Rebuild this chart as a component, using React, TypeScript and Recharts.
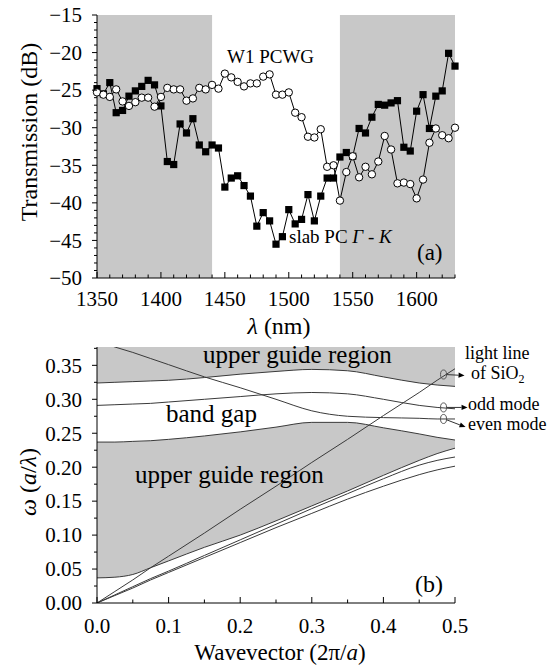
import React from 'react';
import { ComposedChart, Line, Area, XAxis, YAxis, ReferenceArea, ReferenceDot } from 'recharts';

const FONT = "'Liberation Serif', 'DejaVu Serif', serif";
const TXT = { fontFamily: FONT };

// ---- panel (a): transmission spectra ----
const wavelengths = [
  1350, 1355, 1360, 1365, 1370, 1375, 1380, 1385, 1390, 1395,
  1400, 1405, 1410, 1415, 1420, 1425, 1430, 1435, 1440, 1445,
  1450, 1455, 1460, 1465, 1470, 1475, 1480, 1485, 1490, 1495,
  1500, 1505, 1510, 1515, 1520, 1525, 1530, 1535, 1540, 1545,
  1550, 1555, 1560, 1565, 1570, 1575, 1580, 1585, 1590, 1595,
  1600, 1605, 1610, 1615, 1620, 1625, 1630,
];
const slabPcGK = [
  -24.8, -25.5, -24.0, -28.0, -27.7, -25.8, -25.1, -24.5, -23.7, -24.3,
  -27.1, -34.5, -34.9, -29.5, -30.7, -28.8, -32.3, -33.2, -32.3, -32.7,
  -37.9, -36.7, -36.4, -37.7, -39.1, -43.1, -41.3, -42.4, -45.5, -44.5,
  -40.9, -42.8, -42.2, -38.9, -42.4, -39.1, -36.7, -36.7, -33.9, -33.3,
  -33.8, -30.1, -30.7, -28.6, -26.9, -27.0, -26.7, -26.4, -32.6, -33.1,
  -27.8, -25.6, -30.1, -25.8, -25.1, -20.1, -21.8,
];
const w1Pcwg = [
  -25.3, -25.6, -25.9, -24.9, -26.5, -27.1, -26.6, -26.0, -26.0, -27.2,
  -25.9, -24.7, -24.9, -24.9, -26.4, -26.1, -24.7, -24.9, -24.3, -24.8,
  -22.8, -23.3, -23.9, -24.5, -24.1, -24.1, -23.2, -22.9, -25.6, -25.6,
  -25.3, -28.0, -28.6, -31.2, -31.3, -30.2, -35.2, -35.0, -39.7, -35.9,
  -33.8, -36.6, -35.2, -36.2, -34.5, -31.1, -32.9, -37.4, -37.3, -37.5,
  -39.4, -36.9, -32.0, -30.1, -31.0, -31.4, -30.0,
];
const nmTicks = [
  1350, 1360, 1370, 1380, 1390, 1400, 1410, 1420, 1430, 1440, 1450, 1460, 1470, 1480, 1490,
  1500, 1510, 1520, 1530, 1540, 1550, 1560, 1570, 1580, 1590, 1600, 1610, 1620, 1630,
];
const dbTicks = [
  -50, -49, -48, -47, -46, -45, -44, -43, -42, -41, -40, -39, -38, -37, -36, -35, -34, -33,
  -32, -31, -30, -29, -28, -27, -26, -25, -24, -23, -22, -21, -20, -19, -18, -17, -16, -15,
];
const stopBands = [
  [1350, 1440],
  [1540, 1630],
];

// ---- panel (b): band diagram ----
const W_MAX = 0.377;
const kValues = [0, 0.025, 0.05, 0.075, 0.1, 0.15, 0.2, 0.25, 0.3, 0.35, 0.4, 0.45, 0.475, 0.5];
const upperEdge = [0.324, 0.325, 0.326, 0.327, 0.328, 0.332, 0.337, 0.341, 0.344, 0.342, 0.333, 0.324, 0.321, 0.319];
const oddMode = [0.291, 0.292, 0.293, 0.294, 0.296, 0.3, 0.304, 0.308, 0.31, 0.308, 0.3, 0.291, 0.288, 0.286];
const evenMode = [0.386, 0.377, 0.369, 0.36, 0.351, 0.333, 0.317, 0.3, 0.283, 0.275, 0.273, 0.272, 0.271, 0.271];
const gapLow = [0.237, 0.237, 0.238, 0.239, 0.241, 0.246, 0.252, 0.259, 0.266, 0.266, 0.258, 0.249, 0.244, 0.24];
const guideBottom = [0.037, 0.038, 0.042, 0.052, 0.062, 0.082, 0.1, 0.121, 0.143, 0.165, 0.188, 0.21, 0.22, 0.228];
const bandB = [0, 0.012, 0.024, 0.036, 0.047, 0.07, 0.093, 0.116, 0.139, 0.161, 0.183, 0.203, 0.21, 0.215];
const bandC = [0, 0.011, 0.022, 0.034, 0.045, 0.067, 0.089, 0.111, 0.132, 0.153, 0.172, 0.189, 0.196, 0.2015];
const lightLine = [0, 0.017, 0.034, 0.052, 0.069, 0.103, 0.138, 0.172, 0.207, 0.241, 0.276, 0.31, 0.328, 0.345];
const kTicks = [0, 0.05, 0.1, 0.15, 0.2, 0.25, 0.3, 0.35, 0.4, 0.45, 0.5];
const wTicks = [0, 0.025, 0.05, 0.075, 0.1, 0.125, 0.15, 0.175, 0.2, 0.225, 0.25, 0.275, 0.3, 0.325, 0.35, 0.375];

const topData = wavelengths.map((nm, i) => ({ nm, slab: slabPcGK[i], w1: w1Pcwg[i] }));
const bandData = kValues.map((k, i) => ({
  k,
  upReg: [upperEdge[i], W_MAX],
  lowReg: [guideBottom[i], gapLow[i]],
  upperEdge: upperEdge[i],
  odd: oddMode[i],
  even: evenMode[i],
  gapLow: gapLow[i],
  guideBottom: guideBottom[i],
  bandB: bandB[i],
  bandC: bandC[i],
  light: lightLine[i],
}));

const minus = (v: number) => (v < 0 ? '\u2212' + Math.abs(v) : String(v));
const isStep = (step: number) => (v: number) => Math.abs(v / step - Math.round(v / step)) < 1e-6;

// tick renderers (tickSize=0, tickMargin=0 so x/y sit on the axis line)
const bottomTick = (major: (v: number) => boolean, fmt: (v: number) => string, dy: number) => (p: any) => {
  const v = p.payload.value;
  const m = major(v);
  return (
    <g key={`b-${v}`}>
      <line x1={p.x} x2={p.x} y1={p.y} y2={p.y - (m ? 6 : 3.5)} stroke="#000" />
      {m && (
        <text x={p.x} y={p.y + dy} textAnchor="middle" fontSize={21} style={TXT} fill="#000">
          {fmt(v)}
        </text>
      )}
    </g>
  );
};
const topTick = (major: (v: number) => boolean) => (p: any) => {
  const v = p.payload.value;
  return <line key={`t-${v}`} x1={p.x} x2={p.x} y1={p.y} y2={p.y + (major(v) ? 6 : 3.5)} stroke="#000" />;
};
const leftTick = (major: (v: number) => boolean, fmt: (v: number) => string) => (p: any) => {
  const v = p.payload.value;
  const m = major(v);
  return (
    <g key={`l-${v}`}>
      <line x1={p.x} x2={p.x - (m ? 5 : 3)} y1={p.y} y2={p.y} stroke="#000" />
      {m && (
        <text x={p.x - 15} y={p.y} dy="0.35em" textAnchor="end" fontSize={21} style={TXT} fill="#000">
          {fmt(v)}
        </text>
      )}
    </g>
  );
};
const rightTick = (major: (v: number) => boolean) => (p: any) => {
  const v = p.payload.value;
  return <line key={`r-${v}`} x1={p.x} x2={p.x - (major(v) ? 6 : 3.5)} y1={p.y} y2={p.y} stroke="#000" />;
};

const SquareDot = (p: any) => (
  <rect key={`sq-${p.index}`} x={p.cx - 3.6} y={p.cy - 3.6} width={7.2} height={7.2} fill="#000" />
);
const CircleDot = (p: any) => (
  <circle key={`ci-${p.index}`} cx={p.cx} cy={p.cy} r={3.7} fill="#fff" stroke="#000" strokeWidth={1} />
);

const pointer = (dx: number, dy: number) => (p: any) => {
  const ex = p.cx + dx;
  const ey = p.cy + dy;
  const ang = Math.atan2(dy, dx);
  const hx = ex - 6 * Math.cos(ang);
  const hy = ey - 6 * Math.sin(ang);
  const nx = -Math.sin(ang) * 2.6;
  const ny = Math.cos(ang) * 2.6;
  return (
    <g>
      <ellipse cx={p.cx} cy={p.cy} rx={3} ry={4.5} fill="none" stroke="#555" strokeWidth={1} />
      <line x1={p.cx + 3} y1={p.cy + dy * 0.1} x2={hx} y2={hy} stroke="#333" strokeWidth={1} />
      <polygon points={`${ex},${ey} ${hx + nx},${hy + ny} ${hx - nx},${hy - ny}`} fill="#000" />
    </g>
  );
};

const GRAY = '#c8c8c8';
const CURVE = '#3a3a3a';

export default function App() {
  const nmMajor = isStep(50);
  const dbMajor = isStep(5);
  const kMajor = isStep(0.1);
  const wMajor = isStep(0.05);

  return (
    <div style={{ position: 'absolute', left: 0, top: 0, width: 558, height: 666, background: '#fff', overflow: 'hidden', fontFamily: FONT }}>
      <div style={{ position: 'absolute', left: 0, top: 0 }}>
        <ComposedChart width={558} height={335} data={topData} margin={{ top: 15, right: 103, bottom: 0, left: 0 }}>
          <XAxis
            xAxisId="b"
            dataKey="nm"
            type="number"
            domain={[1350, 1630]}
            ticks={nmTicks}
            interval={0}
            height={57}
            tickSize={0}
            tickMargin={0}
            tickLine={false}
            axisLine={{ stroke: '#000' }}
            tick={bottomTick(nmMajor, (v) => String(v), 28)}
          />
          <XAxis
            xAxisId="t"
            orientation="top"
            dataKey="nm"
            type="number"
            domain={[1350, 1630]}
            ticks={nmTicks}
            interval={0}
            height={0}
            tickSize={0}
            tickMargin={0}
            tickLine={false}
            axisLine={{ stroke: '#000' }}
            tick={topTick(nmMajor)}
          />
          <YAxis
            yAxisId="l"
            type="number"
            domain={[-50, -15]}
            ticks={dbTicks}
            interval={0}
            width={97}
            tickSize={0}
            tickMargin={0}
            tickLine={false}
            axisLine={{ stroke: '#000' }}
            tick={leftTick(dbMajor, minus)}
          />
          <YAxis
            yAxisId="r"
            orientation="right"
            type="number"
            domain={[-50, -15]}
            ticks={dbTicks}
            interval={0}
            width={0}
            tickSize={0}
            tickMargin={0}
            tickLine={false}
            axisLine={{ stroke: '#000' }}
            tick={rightTick(dbMajor)}
          />
          {stopBands.map(([a, b]) => (
            <ReferenceArea
              key={`band-${a}`}
              xAxisId="b"
              yAxisId="l"
              x1={a}
              x2={b}
              fill={GRAY}
              fillOpacity={1}
              stroke="none"
            />
          ))}
          <Line
            xAxisId="b"
            yAxisId="l"
            dataKey="slab"
            type="linear"
            stroke="#000"
            strokeWidth={1}
            dot={SquareDot}
            activeDot={false}
            isAnimationActive={false}
          />
          <Line
            xAxisId="b"
            yAxisId="l"
            dataKey="w1"
            type="linear"
            stroke="#000"
            strokeWidth={1}
            dot={CircleDot}
            activeDot={false}
            isAnimationActive={false}
          />
        </ComposedChart>
      </div>

      <div style={{ position: 'absolute', left: 0, top: 335 }}>
        <ComposedChart width={558} height={331} data={bandData} margin={{ top: 12, right: 103, bottom: 0, left: 0 }}>
          <XAxis
            dataKey="k"
            type="number"
            domain={[0, 0.5]}
            ticks={kTicks}
            interval={0}
            height={63}
            tickSize={0}
            tickMargin={0}
            tickLine={false}
            axisLine={{ stroke: '#000' }}
            tick={bottomTick(kMajor, (v) => v.toFixed(1), 30)}
          />
          <YAxis
            type="number"
            domain={[0, W_MAX]}
            allowDataOverflow
            ticks={wTicks}
            interval={0}
            width={97}
            tickSize={0}
            tickMargin={0}
            tickLine={false}
            axisLine={{ stroke: '#000' }}
            tick={leftTick(wMajor, (v) => v.toFixed(2))}
          />
          <Area dataKey="upReg" type="monotone" fill={GRAY} fillOpacity={1} stroke="none" isAnimationActive={false} />
          <Area dataKey="lowReg" type="monotone" fill={GRAY} fillOpacity={1} stroke="none" isAnimationActive={false} />
          {['upperEdge', 'odd', 'even', 'gapLow', 'guideBottom', 'bandB', 'bandC'].map((key) => (
            <Line
              key={key}
              dataKey={key}
              type="monotone"
              stroke={CURVE}
              strokeWidth={1}
              dot={false}
              activeDot={false}
              isAnimationActive={false}
            />
          ))}
          <Line
            dataKey="light"
            type="linear"
            stroke={CURVE}
            strokeWidth={1}
            dot={false}
            activeDot={false}
            isAnimationActive={false}
          />
          <ReferenceDot x={0.484} y={0.3365} r={3} shape={pointer(21, 1)} />
          <ReferenceDot x={0.484} y={0.288} r={3} shape={pointer(24, 0)} />
          <ReferenceDot x={0.484} y={0.271} r={3} shape={pointer(22, 8)} />
        </ComposedChart>
      </div>

      <svg
        width={558}
        height={666}
        style={{ position: 'absolute', left: 0, top: 0, pointerEvents: 'none', fontFamily: FONT }}
        fill="#000"
      >
        <text transform="translate(37,132) rotate(-90)" textAnchor="middle" fontSize={24}>
          Transmission (dB)
        </text>
        <text x={279} y={334} textAnchor="middle" fontSize={24}>
          <tspan fontStyle="italic">λ</tspan> (nm)
        </text>
        <text x={227} y={63} fontSize={19}>
          W1 PCWG
        </text>
        <text x={289} y={243} fontSize={19}>
          slab PC <tspan fontStyle="italic">Γ</tspan> - <tspan fontStyle="italic">K</tspan>
        </text>
        <text x={417} y={260} fontSize={23}>
          (a)
        </text>

        <text x={203} y={363} fontSize={25}>
          upper guide region
        </text>
        <text x={166} y={422} fontSize={25}>
          band gap
        </text>
        <text x={135} y={483} fontSize={25}>
          upper guide region
        </text>
        <text x={415} y={592} fontSize={24}>
          (b)
        </text>
        <text transform="translate(36,482) rotate(-90)" textAnchor="middle" fontSize={24}>
          <tspan fontStyle="italic">ω</tspan> (<tspan fontStyle="italic">a</tspan>/<tspan fontStyle="italic">λ</tspan>)
        </text>
        <text x={280} y={660} textAnchor="middle" fontSize={23}>
          Wavevector (2π/<tspan fontStyle="italic">a</tspan>)
        </text>
        <text x={465} y={359} fontSize={18}>
          light line
        </text>
        <text x={471} y={379} fontSize={18}>
          of SiO
          <tspan dy={4} fontSize={12}>
            2
          </tspan>
        </text>
        <text x={468} y={410} fontSize={18}>
          odd mode
        </text>
        <text x={468} y={430} fontSize={18}>
          even mode
        </text>
      </svg>
    </div>
  );
}
